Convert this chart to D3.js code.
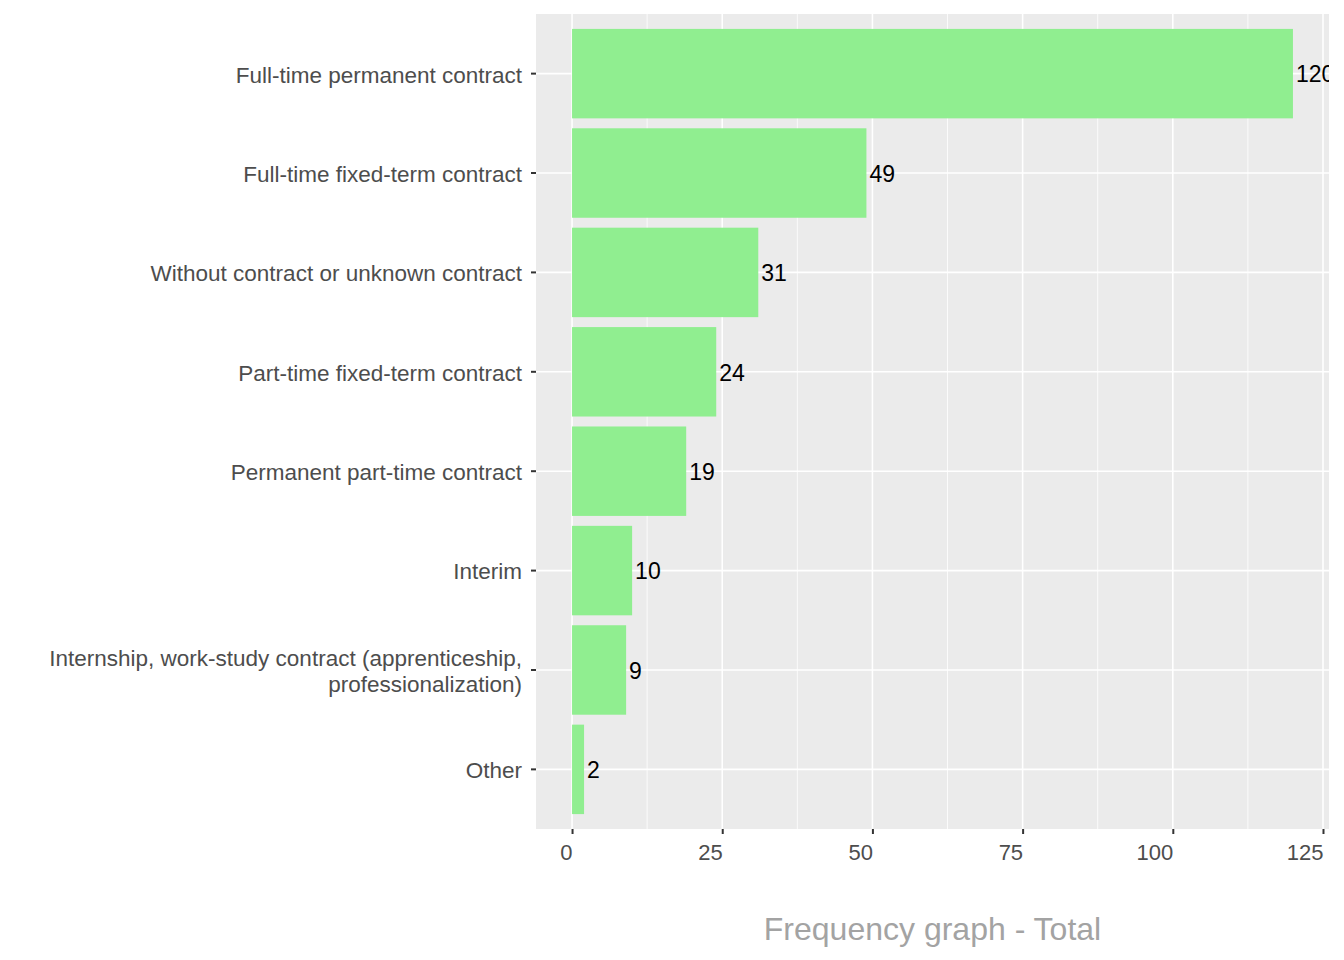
<!DOCTYPE html>
<html>
<head>
<meta charset="utf-8">
<script src="https://cdn.jsdelivr.net/npm/d3@7"></script>
<style>
  body { margin: 0; background: #fff; }
  text { font-family: "Liberation Sans", Arial, sans-serif; }
</style>
</head>
<body>
<div id="chart"></div>
<script>
// contract types, top to bottom
var categories = [
    "Full-time permanent contract",
    "Full-time fixed-term contract",
    "Without contract or unknown contract",
    "Part-time fixed-term contract",
    "Permanent part-time contract",
    "Interim",
    "Internship, work-study contract (apprenticeship,\nprofessionalization)",
    "Other"
];
var values = [120, 49, 31, 24, 19, 10, 9, 2];
var xTicks = [0, 25, 50, 75, 100, 125];
var xTitle = "Frequency graph - Total";

var svgWidth = 1344;
var svgHeight = 960;

var margin = { top: 14, right: 15, bottom: 131, left: 536 };
var width = svgWidth - margin.left - margin.right;
var height = svgHeight - margin.top - margin.bottom;

var svg = d3.select("#chart")
    .append("svg")
    .attr("width", svgWidth)
    .attr("height", svgHeight);

var chartGroup = svg.append("g")
    .attr("transform", `translate(${margin.left}, ${margin.top})`);

// ggplot-like expansion: 5% each side for continuous, 0.6 for discrete
var maxVal = d3.max(values);
var xScale = d3.scaleLinear()
    .domain([-maxVal * 0.05, maxVal * 1.05])
    .range([0, width]);

var yPos = d3.scaleLinear()
    .domain([0.4, categories.length + 0.6])
    .range([0, height]);
var step = yPos(2) - yPos(1);

// panel
chartGroup.append("rect")
    .attr("width", width)
    .attr("height", height)
    .attr("fill", "#EBEBEB");

// minor grid
var minor = d3.range(12.5, 126, 25);
chartGroup.selectAll(".minor")
    .data(minor)
    .enter()
    .append("line")
    .attr("x1", d => xScale(d))
    .attr("x2", d => xScale(d))
    .attr("y1", 0)
    .attr("y2", height)
    .attr("stroke", "#fff")
    .attr("stroke-width", 0.8);

// major grid
chartGroup.selectAll(".majorx")
    .data(xTicks)
    .enter()
    .append("line")
    .attr("x1", d => xScale(d))
    .attr("x2", d => xScale(d))
    .attr("y1", 0)
    .attr("y2", height)
    .attr("stroke", "#fff")
    .attr("stroke-width", 1.6);

chartGroup.selectAll(".majory")
    .data(categories)
    .enter()
    .append("line")
    .attr("x1", 0)
    .attr("x2", width)
    .attr("y1", (d, i) => yPos(i + 1))
    .attr("y2", (d, i) => yPos(i + 1))
    .attr("stroke", "#fff")
    .attr("stroke-width", 1.6);

// clip for labels falling out of the panel
svg.append("clipPath")
    .attr("id", "panelClip")
    .append("rect")
    .attr("width", width)
    .attr("height", height);

var bars = chartGroup.append("g").attr("clip-path", "url(#panelClip)");

bars.selectAll("rect")
    .data(values)
    .enter()
    .append("rect")
    .attr("x", xScale(0))
    .attr("y", (d, i) => yPos(i + 1) - step * 0.45)
    .attr("width", d => xScale(d) - xScale(0))
    .attr("height", step * 0.9)
    .attr("fill", "#90EE90");

bars.selectAll("text")
    .data(values)
    .enter()
    .append("text")
    .text(d => d)
    .attr("x", d => xScale(d) + 3)
    .attr("y", (d, i) => yPos(i + 1))
    .attr("dy", "0.38em")
    .attr("font-size", "23px")
    .attr("fill", "#000");

// x axis
var bottomAxis = d3.axisBottom(xScale)
    .tickValues(xTicks)
    .tickSize(5)
    .tickPadding(10);

var xAxis = chartGroup.append("g")
    .attr("transform", `translate(0, ${height})`)
    .call(bottomAxis);
xAxis.select(".domain").remove();
xAxis.selectAll("line").attr("stroke", "#333").attr("stroke-width", 2);
xAxis.selectAll("text")
    .attr("font-size", "22px")
    .attr("fill", "#4D4D4D")
    .attr("text-anchor", "end")
    .attr("x", 0)
    .style("font-family", "Liberation Sans, Arial, sans-serif");

// y axis
var yAxis = chartGroup.append("g");
yAxis.selectAll("line")
    .data(categories)
    .enter()
    .append("line")
    .attr("x1", -5)
    .attr("x2", 0)
    .attr("y1", (d, i) => yPos(i + 1))
    .attr("y2", (d, i) => yPos(i + 1))
    .attr("stroke", "#333")
    .attr("stroke-width", 2);

yAxis.selectAll("text")
    .data(categories)
    .enter()
    .append("text")
    .attr("text-anchor", "end")
    .attr("font-size", "22.5px")
    .attr("fill", "#4D4D4D")
    .attr("transform", (d, i) => `translate(-14, ${yPos(i + 1) + 1})`)
    .each(function(d) {
        var lines = d.split("\n");
        var t = d3.select(this);
        var lh = 26;
        var start = -(lines.length - 1) * lh / 2;
        lines.forEach(function(l, k) {
            t.append("tspan")
                .attr("x", 0)
                .attr("y", start + k * lh)
                .attr("dy", "0.35em")
                .text(l);
        });
    });

// axis title
chartGroup.append("text")
    .attr("x", width / 2)
    .attr("y", height + 111)
    .attr("text-anchor", "middle")
    .attr("font-size", "32px")
    .attr("fill", "#A3A3A3")
    .text(xTitle);
</script>
</body>
</html>
